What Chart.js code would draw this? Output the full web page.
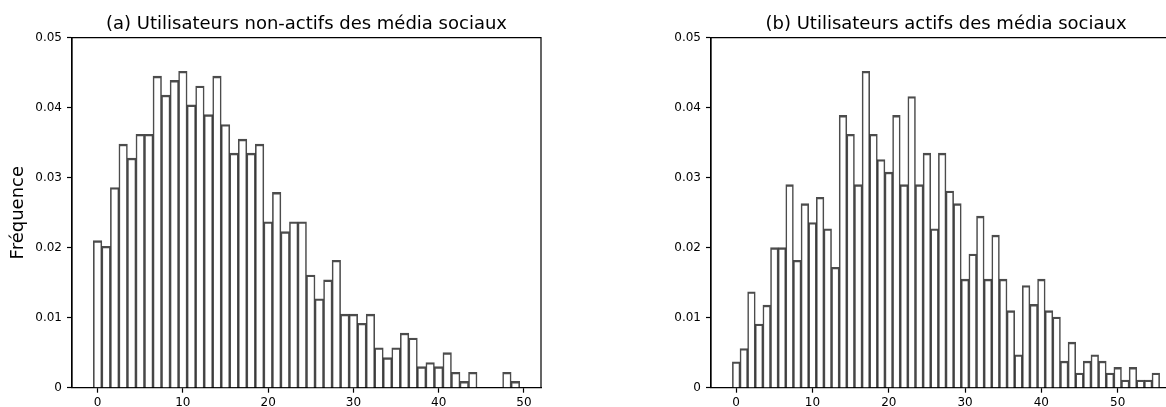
<!DOCTYPE html>
<html><head><meta charset="utf-8">
<script src="https://cdn.jsdelivr.net/npm/chart.js@4.4.0/dist/chart.umd.min.js"></script>
<style>
html,body{margin:0;padding:0;background:#fff;overflow:hidden;width:1166px;height:407px;}
#wrap{position:relative;width:1166px;height:407px;overflow:hidden;background:#fff;}
#c1{position:absolute;left:0;top:0;}
#c2{position:absolute;left:583px;top:0;}
</style></head><body>
<div id="wrap"><canvas id="c1" width="583" height="407"></canvas><canvas id="c2" width="640" height="407"></canvas></div>
<script>
const binsA = [0,1,2,3,4,5,6,7,8,9,10,11,12,13,14,15,16,17,18,19,20,21,22,23,24,25,26,27,28,29,30,31,32,33,34,35,36,37,38,39,40,41,42,43,44,45,46,47,48,49];
const valuesA = [0.0210,0.0202,0.0286,0.0348,0.0328,0.0362,0.0362,0.0445,0.0418,0.0439,
                 0.0452,0.0404,0.0431,0.0390,0.0445,0.0376,0.0335,0.0355,0.0335,0.0348,
                 0.0237,0.0279,0.0223,0.0237,0.0237,0.0161,0.0127,0.0154,0.0182,0.0105,
                 0.0105,0.0092,0.0105,0.0057,0.0043,0.0057,0.0078,0.0071,0.0030,0.0036,
                 0.0030,0.0050,0.0022,0.0009,0.0022,0,0,0,0.0022,0.0009];
const binsB = [0,1,2,3,4,5,6,7,8,9,10,11,12,13,14,15,16,17,18,19,20,21,22,23,24,25,26,27,28,29,30,31,32,33,34,35,36,37,38,39,40,41,42,43,44,45,46,47,48,49,50,51,52,53,54,55];
const valuesB = [0.0037,0.0056,0.0137,0.0091,0.0118,0.0200,0.0200,0.0290,0.0182,0.0263,
                 0.0236,0.0272,0.0227,0.0172,0.0389,0.0362,0.0290,0.0452,0.0362,0.0326,
                 0.0308,0.0389,0.0290,0.0416,0.0290,0.0335,0.0227,0.0335,0.0281,0.0263,
                 0.0155,0.0191,0.0245,0.0155,0.0218,0.0155,0.0110,0.0047,0.0146,0.0119,
                 0.0155,0.0110,0.0101,0.0038,0.0065,0.0021,0.0038,0.0047,0.0038,0.0021,
                 0.0029,0.0011,0.0029,0.0011,0.0011,0.0021];
const xTickValues = [0,10,20,30,40,50];
const yTickValues = [0,0.01,0.02,0.03,0.04,0.05];
const titleA = "(a) Utilisateurs non-actifs des média sociaux";
const titleB = "(b) Utilisateurs actifs des média sociaux";
const yLabel = "Fréquence";

const FONT = "'DejaVu Sans', sans-serif";

const frame = {id:'frame', afterDraw(chart){
  const {ctx, chartArea:a} = chart;
  ctx.save(); ctx.strokeStyle='#000'; ctx.lineWidth=1.2;
  ctx.beginPath();
  ctx.moveTo(a.left, a.bottom); ctx.lineTo(a.left, a.top); ctx.lineTo(a.right, a.top);
  ctx.lineTo(a.right, a.bottom);
  ctx.stroke();
  ctx.restore();
}};

function makeChart(id, bins, values, title, xmin, xmax, showYTitle, padLeft, padRight){
  return new Chart(document.getElementById(id), {
    type:'bar',
    data:{datasets:[{
      data: bins.map((b,i)=>({x:b, y:values[i]})),
      backgroundColor:'#ffffff',
      borderColor:'rgba(20,20,20,0.76)',
      borderWidth:{top:2.4,left:1.6,right:1.6,bottom:0},
      barPercentage:1, categoryPercentage:1
    }]},
    options:{
      responsive:false, animation:false, devicePixelRatio:1,
      layout:{padding:{left:padLeft,right:padRight,top:0,bottom:0}},
      plugins:{
        legend:{display:false}, tooltip:{enabled:false},
        title:{display:true, text:title, fullSize:false, color:'#000',
               font:{family:FONT,size:18,weight:'normal',lineHeight:1.2},
               padding:{top:13.7,bottom:2.4}}
      },
      scales:{
        x:{type:'linear', min:xmin, max:xmax, offset:false,
           grid:{display:true, drawOnChartArea:false, drawTicks:true, tickLength:5, tickColor:'#000', tickWidth:1.2, offset:false},
           border:{display:true, color:'#000', width:1.2},
           ticks:{color:'#000', font:{family:FONT,size:12}, padding:3, maxRotation:0, autoSkip:false},
           afterBuildTicks(s){ s.ticks = xTickValues.map(v=>({value:v})); },
           afterFit(s){ s.height = 19.3; }
        },
        y:{type:'linear', min:0, max:0.05,
           grid:{display:true, drawOnChartArea:false, drawTicks:true, tickLength:5, tickColor:'#000', tickWidth:1.2},
           border:{display:true, color:'#000', width:1.2},
           ticks:{color:'#000', font:{family:FONT,size:12}, padding:5,
                  callback:(v)=> v===0 ? '0' : v.toFixed(2)},
           afterBuildTicks(s){ s.ticks = yTickValues.map(v=>({value:v})); },
           afterFit(s){ s.width = 72; },
           title:{display:showYTitle, text:yLabel, color:'#000', font:{family:FONT,size:18,lineHeight:1.2}, padding:{top:7.5,bottom:0}}
        }
      }
    },
    plugins:[frame]
  });
}

makeChart('c1', binsA, valuesA, titleA, -3, 52, true, 0, 42);
makeChart('c2', binsB, valuesB, titleB, -3.3, 58.3, false, 56, 42);
</script>
</body></html>
